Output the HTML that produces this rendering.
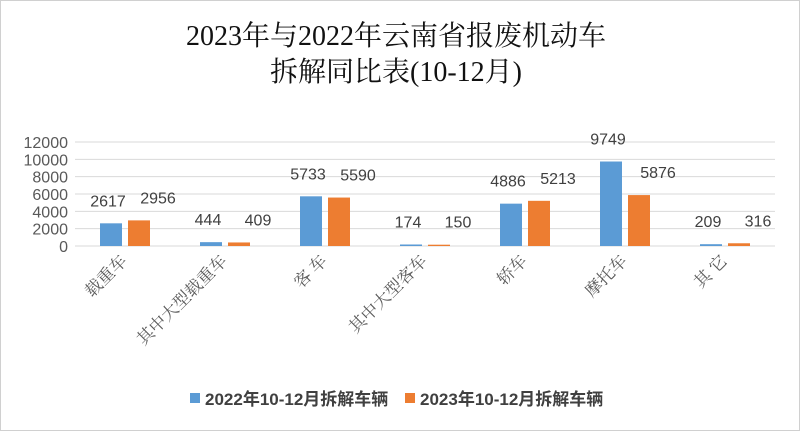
<!DOCTYPE html>
<html><head><meta charset="utf-8"><style>
body{margin:0;background:#fff}
svg{display:block}
</style></head><body>
<svg width="800" height="431" viewBox="0 0 800 431">
<rect x="0.5" y="0.5" width="799" height="430" fill="#fff" stroke="#d0d0d0"/>
<text x="396" y="45" text-anchor="middle" font-family="'Liberation Serif','Noto Serif CJK SC',serif" font-size="28" fill="#111">2023年与2022年云南省报废机动车</text>
<text x="396" y="81" text-anchor="middle" font-family="'Liberation Serif','Noto Serif CJK SC',serif" font-size="28" fill="#111">拆解同比表(10-12月)</text>
<g id="grid"></g><g id="yt"></g><g id="bars"></g><g id="xl"></g>
<g>
<rect x="190" y="393" width="10" height="10" fill="#5b9bd5"/>
<text x="205" y="405" font-family="'Liberation Sans','Noto Sans CJK SC',sans-serif" font-size="17" font-weight="bold" fill="#404040">2022年10-12月拆解车辆</text>
<rect x="405" y="393" width="10" height="10" fill="#ed7d31"/>
<text x="420" y="405" font-family="'Liberation Sans','Noto Sans CJK SC',sans-serif" font-size="17" font-weight="bold" fill="#404040">2023年10-12月拆解车辆</text>
</g>
</svg>
<script>
const categories=["载重车","其中大型载重车","客 车","其中大型客车","轿车","摩托车","其 它"];
const series2022=[2617,444,5733,174,4886,9749,209];
const series2023=[2956,409,5590,150,5213,5876,316];
const yTicks=[0,2000,4000,6000,8000,10000,12000];
const NS="http://www.w3.org/2000/svg";
const x0=75,x1=775,y0=246,y1=142,ymax=12000;
const band=(x1-x0)/categories.length;
const xc=i=>x0+band*(i+0.5);
const y=v=>y0-(v/ymax)*(y0-y1);
function mk(tag,attrs,parent,txt){const e=document.createElementNS(NS,tag);for(const k in attrs)e.setAttribute(k,attrs[k]);if(txt!==undefined)e.textContent=txt;parent.appendChild(e);return e;}
const grid=document.getElementById('grid'),yt=document.getElementById('yt'),bars=document.getElementById('bars'),xl=document.getElementById('xl');
yTicks.forEach(t=>{
 const l=mk('line',{x1:x0,x2:x1,y1:y(t),y2:y(t),stroke:'#d9d9d9','stroke-width':1},grid);
 
 
 const tx=mk('text',{x:68,y:y(t)+6,'text-anchor':'end','font-family':"'Liberation Sans',sans-serif",'font-size':16,fill:'#595959'},yt,String(t));
 
 
});
const font="'Liberation Sans',sans-serif";
categories.forEach((c,i)=>{
 const cx=xc(i);
 [[series2022,'#5b9bd5',-25,-17,'2022'],[series2023,'#ed7d31',3,33,'2023']].forEach(([s,col,off,loff,nm])=>{
  const v=s[i];
  const r=mk('rect',{x:cx+off,y:y(v),width:22,height:y0-y(v),fill:col},bars);
  
  
  const t=mk('text',{x:cx+loff,y:y(v)-17,'text-anchor':'middle','font-family':font,'font-size':16,fill:'#404040'},bars,String(v));
  
  
 });
 const lx=cx+3,ly=262;
 const t=mk('text',{x:lx,y:ly,'text-anchor':'end',transform:`rotate(-45 ${lx} ${ly})`,'font-family':"'Liberation Serif','Noto Serif CJK SC',serif",'font-size':17,fill:'#595959'},xl,c);
 
 
});
</script>
</body></html>
